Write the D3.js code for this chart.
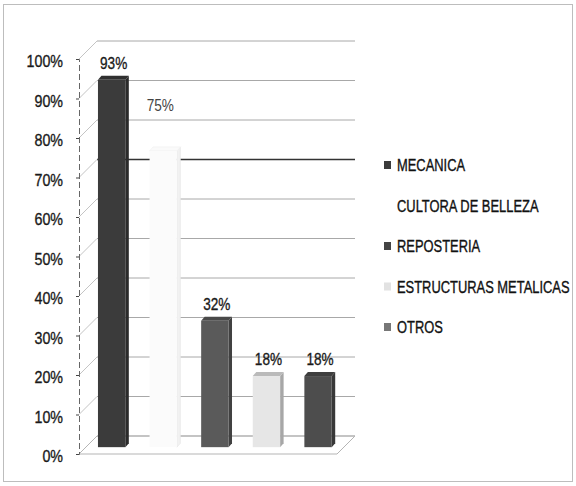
<!DOCTYPE html>
<html><head><meta charset="utf-8">
<script src="https://cdn.jsdelivr.net/npm/d3@7"></script>
<style>
body{margin:0;background:#fff;}
text{font-family:"Liberation Sans","Noto Sans",sans-serif;}
</style></head><body>
<svg id="c" width="576" height="486"></svg>
<script>
const categories = ["MECANICA","CULTORA DE BELLEZA","REPOSTERIA","ESTRUCTURAS METALICAS","OTROS"];
const values = [0.93, 0.75, 0.32, 0.18, 0.18];
const valueLabels = ["93%","75%","32%","18%","18%"];
const tickValues = [0,0.1,0.2,0.3,0.4,0.5,0.6,0.7,0.8,0.9,1.0];
const barColors = ["#3b3b3b","#fbfbfb","#5a5a5a","#e6e6e6","#4d4d4d"];
const legendColors = ["#3b3b3b","#ffffff","#444444","#e2e2e2","#777777"];

const svg = d3.select("#c");
svg.append("rect").attr("x",3.5).attr("y",4.5).attr("width",569).attr("height",477)
  .attr("fill","#fff").attr("stroke","#bdbdbd").attr("stroke-width",1);

const dx = 18, dy = -18;
const yF = d3.scaleLinear().domain([0,1]).range([454,59]);
const yB = v => yF(v) + dy;
const xF0 = 79, xF1 = 337;

svg.append("g").selectAll("line").data(tickValues).join("line")
  .attr("x1", xF0+dx).attr("x2", xF1+dx)
  .attr("y1", d=>yB(d)).attr("y2", d=>yB(d))
  .attr("stroke", d=> Math.abs(d-0.7)<1e-6 ? "#333" : "#a8a8a8")
  .attr("stroke-width", d=> Math.abs(d-0.7)<1e-6 ? 1.3 : 1);
svg.append("g").selectAll("line").data(tickValues).join("line")
  .attr("x1", xF0).attr("x2", xF0+dx)
  .attr("y1", d=>yF(d)).attr("y2", d=>yB(d))
  .attr("stroke","#c4c4c4").attr("stroke-width",1);
svg.append("path")
  .attr("d", `M${xF0},${yF(0)} L${xF1},${yF(0)} L${xF1+dx},${yB(0)} L${xF0+dx},${yB(0)} Z`)
  .attr("fill","none").attr("stroke","#b5b5b5");

const sx = 0.8;
const axis = d3.axisLeft(yF).tickValues(tickValues).tickFormat(d3.format(".0%")).tickSize(3).tickPadding(16);
const ag = svg.append("g").attr("transform",`translate(${xF0},0)`).call(axis);
ag.select(".domain").attr("stroke","#666").attr("stroke-dasharray","6,3");
ag.selectAll(".tick line").attr("stroke","#444");
ag.selectAll(".tick text").attr("font-size",17).attr("fill","#1a1a1a").attr("dy","0.45em")
  .attr("stroke","#1a1a1a").attr("stroke-width",0.35)
  .attr("transform",`scale(0.84,1)`);

const depthFrac = 0.38;
const bx = d3.scaleBand().domain(categories).range([xF0+dx*depthFrac, xF1+dx*depthFrac]).padding(0);
const yBar = v => yF(v) + dy*depthFrac;
const bw = bx.bandwidth()*0.53, sd = 3.5, su = -4;
const bars = svg.append("g").selectAll("g").data(categories).join("g");
bars.each(function(c,i){
  const g = d3.select(this);
  const x0 = bx(c) + (bx.bandwidth()-bw)/2, x1 = x0+bw;
  const top = yBar(values[i]), base = yBar(0);
  const col = d3.color(barColors[i]);
  const light = i===1;
  g.append("path").attr("d",`M${x1},${top} L${x1+sd},${top+su} L${x1+sd},${base+su} L${x1},${base} Z`)
    .attr("fill", light ? "#f2f2f2" : col.darker(0.9)).attr("stroke", light?"#e6e6e6":"none").attr("stroke-width",0.6);
  g.append("path").attr("d",`M${x0},${top} L${x0+sd},${top+su} L${x1+sd},${top+su} L${x1},${top} Z`)
    .attr("fill", light ? "#fafafa" : col.darker(0.6)).attr("stroke", light?"#f0f0f0":"none").attr("stroke-width",0.6);
  g.append("rect").attr("x",x0).attr("y",top).attr("width",bw).attr("height",base-top)
    .attr("fill", col);
  const lift = i===1 ? 40 : 11;
  const cx = (x0+x1)/2 + (i===1 ? -3 : 2);
  const tc = i===1 ? "#444" : "#1a1a1a";
  g.append("text").attr("transform",`translate(${cx},${top-lift}) scale(${sx},1)`)
    .attr("text-anchor","middle")
    .attr("font-size",17).attr("fill", tc)
    .attr("stroke", i===1 ? "none" : tc).attr("stroke-width",0.35).text(valueLabels[i]);
});

const lg = svg.append("g").selectAll("g").data(categories).join("g")
  .attr("transform",(d,i)=>`translate(384,${165+i*40.5})`);
lg.append("rect").attr("x",0).attr("y",-4).attr("width",7).attr("height",8)
  .attr("fill",(d,i)=>legendColors[i]);
lg.append("text").attr("transform","translate(13,0) scale(0.76,1)").attr("dy","0.36em").attr("font-size",17)
  .attr("fill","#111").attr("stroke","#111").attr("stroke-width",0.35).text(d=>d);
</script></body></html>
